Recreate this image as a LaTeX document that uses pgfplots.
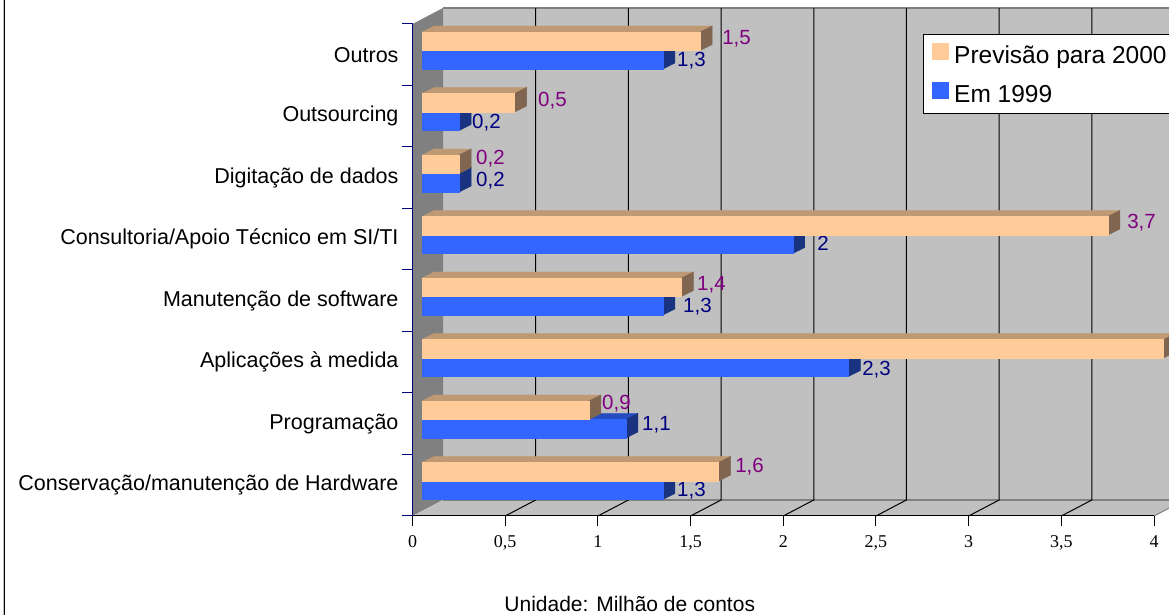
\documentclass[border=0pt]{standalone}
\usepackage{pgfplots}
\usepackage{pgfplotstable}
\usepackage{fontspec}
\pgfplotsset{compat=1.18}
\setmainfont{Liberation Sans}
\newfontfamily\serifticks{Liberation Serif}

\definecolor{wall}{HTML}{C0C0C0}
\definecolor{sidewall}{HTML}{808080}
\definecolor{oface}{HTML}{FFCC99}
\definecolor{otop}{HTML}{BF9973}
\definecolor{oside}{HTML}{806650}
\definecolor{bface}{HTML}{3366FF}
\definecolor{btop}{HTML}{264DBF}
\definecolor{bside}{HTML}{1A3380}
\definecolor{lblpurple}{HTML}{800080}
\definecolor{lblnavy}{HTML}{000080}

% pos = band centre, val = value, dx dy = label offset
\pgfplotstableread{
pos val dx    dy
7.5 1.5 31.5  17.75
6.5 0.5 32.8  17.25
5.5 0.2 26.4  20.75
4.5 3.7 28.7  18.25
3.5 1.4 25    17.75
2.5 4.0 26    18
1.5 0.9 22.7  21.75
0.5 1.6 26    20.25
}\previsao
\pgfplotstableread{
pos val dx    dy
7.5 1.3 23.5  -3.75
6.5 0.2 22.4  -4.75
5.5 0.2 26.4  -1.25
4.5 2.0 33.8  -1.75
3.5 1.3 29.5  -3.75
2.5 2.3 23.2  -5.75
1.5 1.1 25.6  0.75
0.5 1.3 23.5  -3.75
}\atual

\pgfplotsset{
  bardepth/.style n args={4}{% lower edge of the front face, top, side and front colour
    only marks, scatter, mark=none, forget plot, point meta=x,
    visualization depends on={\thisrow{val}\as\barval},
    visualization depends on={\thisrow{dx}\as\lblx},
    visualization depends on={\thisrow{dy}\as\lbly},
    scatter/@pre marker code/.code={%
      \begin{scope}[x=1pt,y=1pt]
      \fill[#2] ({-\barval*185.35+9.5},{#1+18.5}) -- (9.5,{#1+18.5}) -- (21.5,{#1+24.5}) -- ({-\barval*185.35+21.5},{#1+24.5}) -- cycle;
      \fill[#3] (9.5,#1) -- (9.5,{#1+18.5}) -- (21.5,{#1+24.5}) -- (21.5,{#1+6}) -- cycle;
      \fill[#4] ({-\barval*185.35+9.5},#1) rectangle (9.5,{#1+18.5});
      \end{scope}},
    scatter/@post marker code/.code={},
    nodes near coords*={\ifdim\barval pt<3.9pt\pgfmathprintnumber{\barval}\fi},
    every node near coord/.style={anchor=west, inner sep=0pt, font=\fontsize{20.5}{20.5}\selectfont, xshift=\lblx pt, yshift={\lbly-2}},
  },
  barfront/.style={xbar, bar width=18.5pt, draw=none, fill=#1, xshift=9.5pt, yshift=4.25pt,
    legend image code/.code={\fill[#1] (0pt,-8.5pt) rectangle (17pt,8.5pt); \path (20pt,0pt);}},
}

\begin{document}
\begin{tikzpicture}
\path[use as bounding box] (0,0) rectangle (1169pt,615pt);
\clip (0,0) rectangle (1169pt,615pt);
\begin{scope}[x=1pt,y=1pt]
% chart frame
\fill[white] (0,0) rectangle (1169,615);
\fill[wall] (3,0) rectangle (4,615);
\fill[black] (4,0) rectangle (5,615);
% walls of the 3D box
\fill[wall] (443,115) rectangle (1169,607);
\fill[sidewall] (412.5,99) -- (443,115) -- (443,607) -- (412.5,591) -- cycle;
\fill[wall] (412.5,99) -- (443,115) -- (1184.5,115) -- (1154,99) -- cycle;
\draw[sidewall,line width=1.5pt] (443,115) -- (1169,115);
\draw[sidewall,line width=1.5pt] (443,607) -- (1169,607);
\draw[sidewall,line width=1pt] (1154,99) -- (1184.5,115);
\foreach \k in {1,...,7} {
  \draw[black,line width=1pt] ({412.5+92.69*\k+30.5},607) -- ({412.5+92.69*\k+30.5},115) -- ({412.5+92.69*\k},99);
}
\end{scope}
\begin{axis}[
    at={(412.5pt,99pt)}, anchor=origin,
    scale only axis, width=741.5pt, height=492pt,
    clip=false,
    xmin=0, xmax=4, ymin=0, ymax=8,
    axis lines*=left,
    x axis line style={black,line width=1pt},
    y axis line style={lblnavy,line width=1pt},
    xtick={0,0.5,...,4},
    xtick style={black,line width=1pt},
    tick align=outside,
    major tick length=10pt,
    xticklabel style={font=\serifticks\fontsize{18}{18}\selectfont, yshift=-6pt},
    /pgf/number format/use comma,
    /pgf/number format/assume math mode=true,
    ytick={0,1,...,8},
    yticklabels={},
    ytick style={lblnavy,line width=1pt},
    extra y ticks={0.5,1.5,...,7.5},
    extra y tick labels={Conservação/manutenção de Hardware, Programação, Aplicações à medida, Manutenção de software, Consultoria/Apoio Técnico em SI/TI, Digitação de dados, Outsourcing, Outros},
    extra y tick style={tick style={draw=none}},
    yticklabel style={font=\fontsize{21.5}{21.5}\selectfont, anchor=east, xshift=-0.5pt},
    xlabel={Unidade: Milhão de contos},
    xlabel style={at={(axis description cs:0.293,0)}, anchor=center, yshift=-88pt, font=\fontsize{21}{21}\selectfont},
    legend style={at={(0.688,0.979)}, anchor=north west, draw=black, line width=1pt, fill=white,
      font=\fontsize{24.5}{24.5}\selectfont, row sep=14.5pt, inner xsep=9pt, inner ysep=8pt},
    legend cell align=left,
    reverse legend,
]
\addplot[bardepth={-14.25}{btop}{bside}{bface}, nodes near coords style={text=lblnavy}] table[x=val,y=pos] {\atual};
\addplot[barfront=bface, bar shift=-9.25pt] table[x=val,y=pos] {\atual};
\addlegendentry{Em 1999}
\addplot[bardepth={4.25}{otop}{oside}{oface}, nodes near coords style={text=lblpurple}] table[x=val,y=pos] {\previsao};
\addplot[barfront=oface, bar shift=9.25pt] table[x=val,y=pos] {\previsao};
\addlegendentry{Previsão para 2000}
\end{axis}
\end{tikzpicture}
\end{document}
